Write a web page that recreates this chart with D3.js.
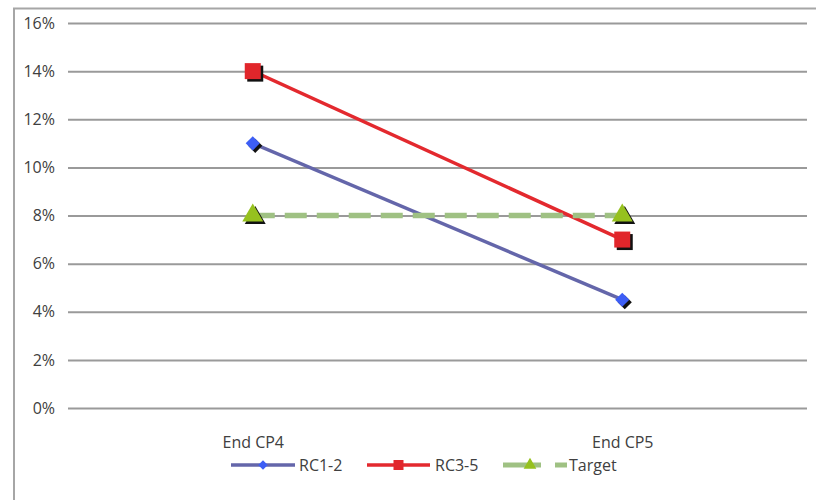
<!DOCTYPE html>
<html>
<head>
<meta charset="utf-8">
<script src="https://cdn.jsdelivr.net/npm/d3@7"></script>
<style>
  html, body { margin: 0; padding: 0; background: #fff; }
  svg { display: block; }
  svg text { font-family: "Open Sans", "Liberation Sans", sans-serif; font-size: 16px; fill: #404040; }
</style>
</head>
<body>
<svg id="chart" width="816" height="500"></svg>
<script>
// Categories and series
const categories = ["End CP4", "End CP5"];
const rc12 = [11, 4.5];
const rc35 = [14, 7];
const target = [8, 8];
const yTicks = [0, 2, 4, 6, 8, 10, 12, 14, 16];
const seriesNames = ["RC1-2", "RC3-5", "Target"];

const svg = d3.select("#chart");
const margin = { left: 68, right: 9, top: 23, bottom: 92 };
const W = 816, H = 500;

const x = d3.scalePoint().domain(categories).range([margin.left, W - margin.right]).padding(0.5);
const y = d3.scaleLinear().domain([0, 16]).range([H - margin.bottom, margin.top]);

// Outer frame (left and top edges)
svg.append("path")
  .attr("d", `M14,500 V8.5 H816`)
  .attr("fill", "none").attr("stroke", "#a6a6a6").attr("stroke-width", 2);

// Gridlines and value labels
const yAxis = d3.axisLeft(y).tickValues(yTicks).tickFormat(d => d + "%")
  .tickSize(-(W - margin.left - margin.right)).tickPadding(13);
const gy = svg.append("g").attr("transform", `translate(${margin.left},0)`).call(yAxis);
gy.select(".domain").remove();
gy.attr("font-family", null).attr("font-size", null);
gy.selectAll(".tick line").attr("stroke", "#9a9a9a").attr("stroke-width", 2);

// Category labels
const xAxis = d3.axisBottom(x).tickSize(0).tickPadding(0);
const gx = svg.append("g").attr("transform", `translate(0,${y(0) + 29})`).call(xAxis);
gx.select(".domain").remove();
gx.attr("font-family", null).attr("font-size", null);

const line = d3.line().x((d, i) => x(categories[i])).y(d => y(d));

// Marker shapes
const shapes = {
  diamond: d3.symbol().type(d3.symbolSquare).size(100),
  square: d3.symbol().type(d3.symbolSquare).size(256),
  triangle: d3.symbol().type(d3.symbolTriangle).size(190)
};

function drawMarker(g, cx, cy, kind, fill) {
  const rot = kind === "diamond" ? 45 : 0;
  const p = shapes[kind]();
  g.append("path").attr("d", p).attr("fill", "#111")
    .attr("transform", `translate(${cx + 2.5},${cy + 2.5}) rotate(${rot})`);
  g.append("path").attr("d", p).attr("fill", fill)
    .attr("transform", `translate(${cx},${cy}) rotate(${rot})`);
}

const series = [
  { name: seriesNames[0], values: rc12, stroke: "#6466aa", width: 3.5, dash: null, marker: "diamond", fill: "#3d5ef5" },
  { name: seriesNames[1], values: rc35, stroke: "#e3292e", width: 3.5, dash: null, marker: "square", fill: "#e1262b" },
  { name: seriesNames[2], values: target, stroke: "#9fc183", width: 5.5, dash: "22,10", marker: "triangle", fill: "#96c11f" }
];

// Lines first, then markers on top
const gl = svg.append("g");
series.forEach(s => {
  gl.append("path").datum(s.values).attr("d", line)
    .attr("fill", "none").attr("stroke", s.stroke).attr("stroke-width", s.width)
    .attr("stroke-dasharray", s.dash);
});
const gm = svg.append("g");
series.forEach(s => {
  s.values.forEach((v, i) => drawMarker(gm, x(categories[i]), y(v), s.marker, s.fill));
});

// Legend
const legendY = 465;
const lg = svg.append("g");
const legendItems = [
  { s: series[0], x0: 231, x1: 295, tx: 299 },
  { s: series[1], x0: 367, x1: 430, tx: 435 },
  { s: series[2], x0: 503, x1: 567, tx: 569 }
];
legendItems.forEach(it => {
  const s = it.s;
  if (s.dash) {
    lg.append("line").attr("x1", it.x0).attr("x2", it.x1).attr("y1", legendY).attr("y2", legendY)
      .attr("stroke", s.stroke).attr("stroke-width", 5).attr("stroke-dasharray", "38,14");
  } else {
    lg.append("line").attr("x1", it.x0).attr("x2", it.x1).attr("y1", legendY).attr("y2", legendY)
      .attr("stroke", s.stroke).attr("stroke-width", 3.5);
  }
  const mx = s.dash ? 530 : (it.x0 + it.x1) / 2;
  const size = s.marker === "square" ? 100 : s.marker === "triangle" ? 70 : 45;
  lg.append("path").attr("d", d3.symbol().type(s.marker === "triangle" ? d3.symbolTriangle : d3.symbolSquare).size(size)())
    .attr("fill", s.fill)
    .attr("transform", `translate(${mx},${legendY}) rotate(${s.marker === "diamond" ? 45 : 0})`);
  lg.append("text").attr("x", it.tx).attr("y", legendY).attr("dy", "0.35em").text(s.name);
});
</script>
</body>
</html>
